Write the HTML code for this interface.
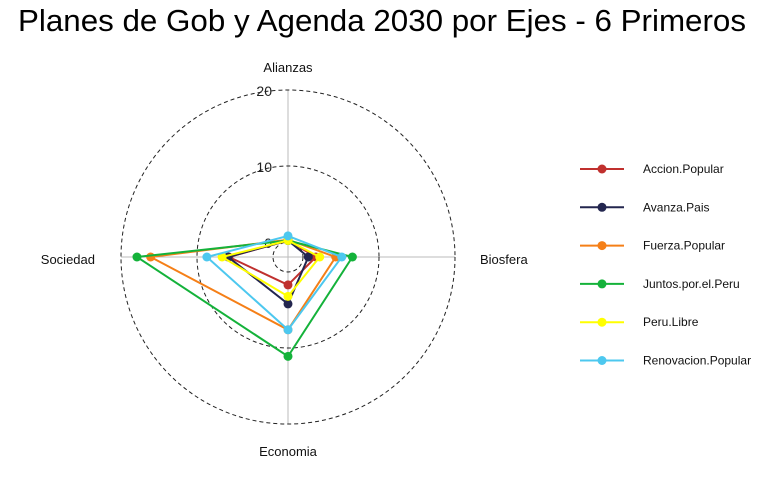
<!DOCTYPE html>
<html><head><meta charset="utf-8"><style>
body{margin:0;background:#fff;font-family:"Liberation Sans",sans-serif;}
svg{display:block}
</style></head><body>
<svg id="chart" width="773" height="483">
<text x="382" y="31" text-anchor="middle" font-size="31" fill="#000" textLength="728" lengthAdjust="spacingAndGlyphs">Planes de Gob y Agenda 2030 por Ejes - 6 Primeros</text>
<g id="grid"></g><g id="series"></g><g id="legend"></g>
</svg>
<script>
const axes = ["Alianzas","Biosfera","Economia","Sociedad"];
const seriesNames = ["Accion.Popular","Avanza.Pais","Fuerza.Popular","Juntos.por.el.Peru","Peru.Libre","Renovacion.Popular"];
const accionPopular = [0.2,1.7,1.7,5.8];
const avanzaPais = [0.2,0.7,4.2,5.9];
const fuerzaPopular = [0.3,4.3,7.6,16.1];
const juntosPorElPeru = [0.2,6.5,11.1,17.9];
const peruLibre = [0.2,2.2,3.2,6.7];
const renovacionPopular = [0.8,5.1,7.6,8.7];
const gridValues = [0,10,20];
const tickLabels = ["0","10","20"];
const seriesValues = [accionPopular,avanzaPais,fuerzaPopular,juntosPorElPeru,peruLibre,renovacionPopular];
const colors = ["#c0302e","#23264f","#f57f17","#14b23a","#ffff00","#4dc8ef"];
const cx=288, cy=257;
const NS="http://www.w3.org/2000/svg";
function r(v){return 15+v*7.6;}
function pt(i,v){const a=-Math.PI/2+i*Math.PI/2;return [cx+r(v)*Math.cos(a), cy+r(v)*Math.sin(a)];}
function mk(tag,attrs,parent){const e=document.createElementNS(NS,tag);for(const k in attrs)e.setAttribute(k,attrs[k]);parent.appendChild(e);return e;}
const grid=document.getElementById('grid');
const R=r(20);
const hl=mk('line',{x1:cx-R,y1:cy,x2:cx+R,y2:cy,stroke:"#bbb","stroke-width":1},grid);


const vl=mk('line',{x1:cx,y1:cy-R,x2:cx,y2:cy+R,stroke:"#bbb","stroke-width":1},grid);


gridValues.forEach((g,i)=>{
  const c=mk('circle',{cx:cx,cy:cy,r:r(g),fill:"none",stroke:"#222","stroke-width":1,"stroke-dasharray":"4,3"},grid);
  
  
  const t=mk('text',{x:cx-16,y:cy-r(g)+6,"text-anchor":"end","font-size":14,fill:"#222"},grid);
  t.textContent=tickLabels[i];
  
  
});
const labelPos=[[cx,72,"middle"],[480,264,"start"],[cx,456,"middle"],[95,264,"end"]];
axes.forEach((a,i)=>{
  const t=mk('text',{x:labelPos[i][0],y:labelPos[i][1],"text-anchor":labelPos[i][2],"font-size":13,fill:"#111"},grid);
  t.textContent=a;
  
  
});
const sg=document.getElementById('series');
seriesValues.forEach((vals,s)=>{
  const g=mk('g',{},sg);
  
  
  const pts=vals.map((v,i)=>pt(i,v));
  const p=mk('polygon',{points:pts.map(q=>q.join(',')).join(' '),fill:"none",stroke:colors[s],"stroke-width":2},g);
  
  
  pts.forEach((q,i)=>{
    const c=mk('circle',{cx:q[0],cy:q[1],r:4.5,fill:colors[s]},g);
    
    
  });
});
const lg=document.getElementById('legend');
seriesNames.forEach((n,i)=>{
  const y=169+i*38.3;
  const g=mk('g',{},lg);
  
  
  mk('line',{x1:580,y1:y,x2:624,y2:y,stroke:colors[i],"stroke-width":2},g);
  mk('circle',{cx:602,cy:y,r:4.5,fill:colors[i]},g);
  const t=mk('text',{x:643,y:y+4,"font-size":12,fill:"#111"},g);
  t.textContent=n;
});
</script>
</body></html>
